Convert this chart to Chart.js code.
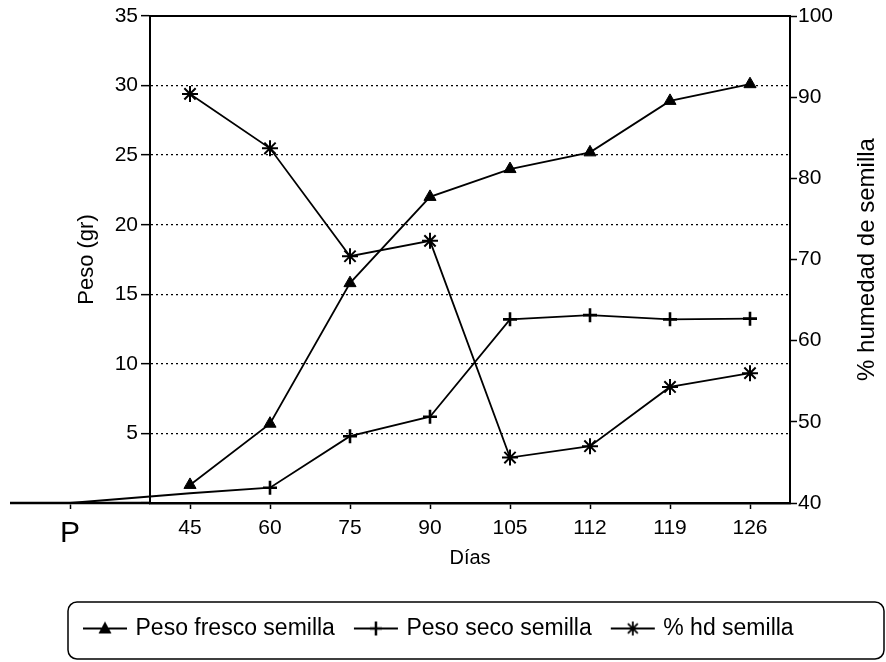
<!DOCTYPE html>
<html><head><meta charset="utf-8">
<script src="https://cdn.jsdelivr.net/npm/chart.js@4/dist/chart.umd.min.js"></script>
<style>html,body{margin:0;padding:0;background:#fff}#wrap{width:886px;height:662px}</style>
</head><body><div id="wrap"><canvas id="c" width="886" height="662"></canvas></div>
<script>
// ---- data ----
const days = ['P', '45', '60', '75', '90', '105', '112', '119', '126'];
const pesoFresco = [null, 1.3, 5.7, 15.8, 22.0, 24.0, 25.2, 28.9, 30.1];
const pesoSeco = [0, 0.7, 1.1, 4.8, 6.2, 13.2, 13.5, 13.2, 13.25];
const humedad = [null, 90.4, 83.7, 70.4, 72.3, 45.6, 47.0, 54.3, 56.0];
const seriesNames = ['Peso fresco semilla', 'Peso seco semilla', '% hd semilla'];
const pesoRange = [0, 35, 5];
const humedadRange = [40, 100, 10];
const titles = { x: 'Días', y: 'Peso (gr)', y1: '% humedad de semilla' };

// layout rule: "P" sits left of the weight axis, sampled days evenly spaced after it
const slotOf = i => (i === 0 ? 0 : 2 * i + 1);
const FAM = '"Liberation Sans", Arial, sans-serif';

function legendIcon(kind) {
  const c = document.createElement('canvas');
  c.width = 46; c.height = 22;
  const g = c.getContext('2d');
  g.strokeStyle = '#000'; g.fillStyle = '#000'; g.lineWidth = 1.8;
  g.beginPath(); g.moveTo(1, 11); g.lineTo(45, 11); g.stroke();
  const cx = 23, cy = 11;
  g.beginPath();
  if (kind === 'triangle') {
    g.moveTo(cx, cy - 7); g.lineTo(cx - 6.5, cy + 5); g.lineTo(cx + 6.5, cy + 5); g.closePath(); g.fill();
  } else if (kind === 'cross') {
    g.lineWidth = 2.5;
    g.moveTo(cx - 6, cy); g.lineTo(cx + 6, cy); g.moveTo(cx, cy - 7); g.lineTo(cx, cy + 7); g.stroke();
  } else {
    g.lineWidth = 1.8;
    for (let k = 0; k < 4; k++) {
      const a = k * Math.PI / 4;
      g.moveTo(cx - 7 * Math.cos(a), cy - 7 * Math.sin(a));
      g.lineTo(cx + 7 * Math.cos(a), cy + 7 * Math.sin(a));
    }
    g.stroke();
  }
  return c;
}
const icons = [legendIcon('triangle'), legendIcon('cross'), legendIcon('star')];

const decor = {
  id: 'decor',
  afterDraw(chart) {
    const { ctx, chartArea: a } = chart;
    ctx.save();
    ctx.strokeStyle = '#000';
    ctx.lineWidth = 2;
    ctx.beginPath(); ctx.moveTo(a.left, a.top); ctx.lineTo(a.right + 1, a.top); ctx.stroke();
    ctx.lineWidth = 2.5;
    ctx.beginPath(); ctx.moveTo(10, a.bottom); ctx.lineTo(a.left, a.bottom); ctx.stroke();
    ctx.fillStyle = '#000';
    ctx.font = '24px ' + FAM;
    ctx.textAlign = 'center'; ctx.textBaseline = 'middle';
    ctx.translate(867, (a.top + a.bottom) / 2);
    ctx.rotate(-Math.PI / 2);
    ctx.fillText(titles.y1, 0, 0);
    ctx.restore();
    ctx.save();
    ctx.strokeStyle = '#000'; ctx.lineWidth = 1.5;
    ctx.beginPath(); ctx.roundRect(68, 602, 816, 57, 9); ctx.stroke();
    ctx.restore();
  }
};

const common = { borderColor: '#000', backgroundColor: '#000', borderWidth: 1.8, tension: 0, clip: false,
  pointBackgroundColor: '#000', pointBorderColor: '#000' };

new Chart(document.getElementById('c'), {
  type: 'line',
  data: {
    datasets: [
      Object.assign({}, common, { label: seriesNames[0], yAxisID: 'y',
        data: pesoFresco.map((v, i) => ({ x: slotOf(i), y: v })),
        pointStyle: 'triangle', pointRadius: 7, pointBorderWidth: 1 }),
      Object.assign({}, common, { label: seriesNames[1], yAxisID: 'y',
        data: pesoSeco.map((v, i) => ({ x: slotOf(i), y: v })),
        pointStyle: 'cross', pointRadius: c => (c.dataIndex < 2 ? 0 : 7), pointBorderWidth: 2.6 }),
      Object.assign({}, common, { label: seriesNames[2], yAxisID: 'y1',
        data: humedad.map((v, i) => ({ x: slotOf(i), y: v })),
        pointStyle: 'star', pointRadius: 8, pointBorderWidth: 2 })
    ]
  },
  options: {
    responsive: false, animation: false, devicePixelRatio: 1,
    layout: { padding: { left: 64, right: 0, top: 16, bottom: 12 } },
    plugins: {
      tooltip: { enabled: false },
      legend: {
        position: 'bottom', align: 'start',
        labels: {
          usePointStyle: true, pointStyleWidth: 38, padding: 22, color: '#000',
          font: { family: FAM, size: 23 },
          generateLabels: chart => chart.data.datasets.map((d, i) => ({
            text: d.label, pointStyle: icons[i], fillStyle: '#000', strokeStyle: '#000',
            lineWidth: 0, hidden: false, datasetIndex: i, fontColor: '#000'
          }))
        }
      }
    },
    scales: {
      x: {
        type: 'linear', min: 2, max: 18,
        afterBuildTicks: s => { s.ticks = days.map((d, i) => ({ value: slotOf(i) })); },
        ticks: { autoSkip: false, maxRotation: 0, color: '#000', padding: 7,
          font: c => ({ family: FAM, size: c.index === 0 ? 30 : 21 }),
          callback: (v, i) => days[i] },
        grid: { drawOnChartArea: false, drawTicks: true, tickLength: 6, tickColor: '#000', tickWidth: 1.5 },
        border: { color: '#000', width: 2.5 },
        title: { display: true, text: titles.x, color: '#000', font: { family: FAM, size: 20 }, padding: { top: 0, bottom: 25 } },
        afterFit: s => { s.height = 92; }
      },
      y: {
        type: 'linear', position: 'left', min: pesoRange[0], max: pesoRange[1],
        ticks: { stepSize: pesoRange[2], color: '#000', padding: 3, font: { family: FAM, size: 21 },
          callback: v => (v === 0 ? '' : v) },
        grid: { color: c => (c.tick && (c.tick.value === pesoRange[0] || c.tick.value === pesoRange[1])) ? 'rgba(0,0,0,0)' : '#000',
          lineWidth: 1.3, tickColor: '#000', tickLength: 9, tickWidth: 1.5 },
        border: { color: '#000', width: 2, dash: [2, 3] },
        title: { display: true, text: titles.y, color: '#000', font: { family: FAM, size: 22 }, padding: { top: 10, bottom: 0 } },
        afterFit: s => { s.width = 86; }
      },
      y1: {
        type: 'linear', position: 'right', min: humedadRange[0], max: humedadRange[1],
        ticks: { stepSize: humedadRange[2], color: '#000', padding: 1, font: { family: FAM, size: 21 } },
        grid: { drawOnChartArea: false, tickLength: 7, tickColor: '#000', tickWidth: 1.5 },
        border: { color: '#000', width: 2 },
        afterFit: s => { s.width = 96; }
      }
    }
  },
  plugins: [decor]
});
</script></body></html>
